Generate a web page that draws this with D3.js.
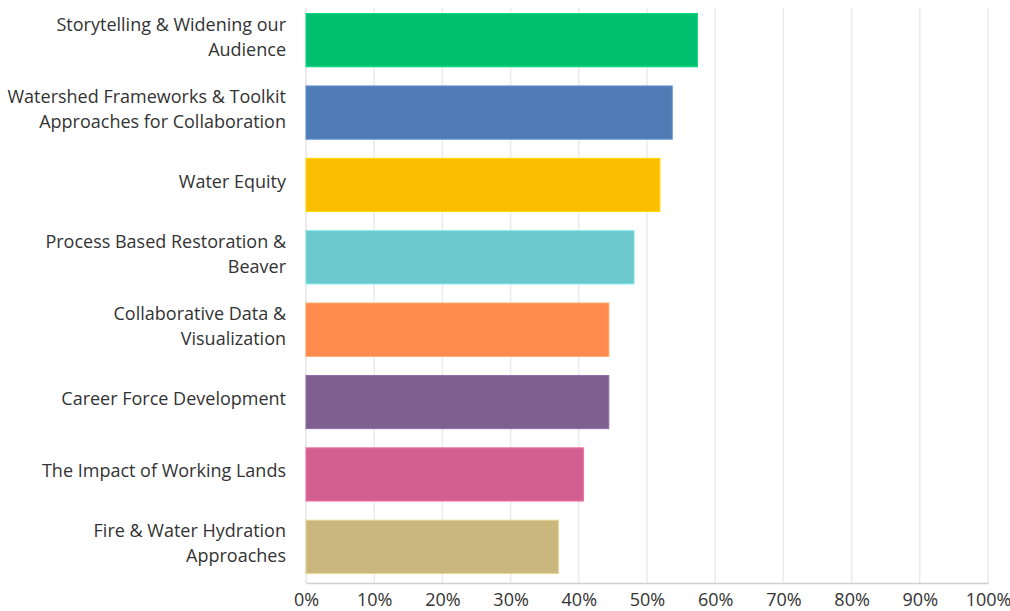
<!DOCTYPE html>
<html>
<head>
<meta charset="utf-8">
<script src="https://cdn.jsdelivr.net/npm/d3@7"></script>
<style>
  body { margin: 0; background: #fff; }
  text { font-family: "Open Sans", sans-serif; fill: #333; }
</style>
</head>
<body>
<svg width="1010" height="611"></svg>
<script>
var svg = d3.select("svg");

// topics, top to bottom
var topics = [
  ["Storytelling & Widening our", "Audience"],
  ["Watershed Frameworks & Toolkit", "Approaches for Collaboration"],
  ["Water Equity"],
  ["Process Based Restoration &", "Beaver"],
  ["Collaborative Data &", "Visualization"],
  ["Career Force Development"],
  ["The Impact of Working Lands"],
  ["Fire & Water Hydration", "Approaches"]
];
var shares = [57.4, 53.7, 51.9, 48.1, 44.4, 44.4, 40.7, 37.0];
var colors = ["#00bf6f", "#507cb6", "#f9be00", "#6bc8cd", "#ff8b4f", "#7f5f90", "#d25f90", "#c9b77d"];
var tickValues = [0, 10, 20, 30, 40, 50, 60, 70, 80, 90, 100];

var margin = {top: 4, right: 22, bottom: 28, left: 306};
var width = +svg.attr("width") - margin.left - margin.right;
var height = +svg.attr("height") - margin.top - margin.bottom;

var g = svg.append("g")
  .attr("transform", "translate(" + margin.left + "," + margin.top + ")");

var x = d3.scaleLinear().domain([0, 100]).range([0, width]);
var y = d3.scaleBand()
  .domain(d3.range(topics.length))
  .range([0, height])
  .paddingInner(0.265)
  .paddingOuter(0.1325);

// grid
g.selectAll(".grid")
  .data(tickValues.slice(1))
  .enter().append("line")
  .attr("x1", function(d) { return x(d); })
  .attr("x2", function(d) { return x(d); })
  .attr("y1", 4)
  .attr("y2", height)
  .style("stroke", "#ebebeb")
  .style("stroke-width", 1.5);

// left axis line
g.append("line")
  .attr("x1", 0).attr("x2", 0)
  .attr("y1", 4).attr("y2", height)
  .style("stroke", "#d9d9d9");

// bars
g.selectAll(".bar")
  .data(shares)
  .enter().append("rect")
  .attr("x", 0)
  .attr("y", function(d, i) { return y(i); })
  .attr("width", function(d) { return x(d); })
  .attr("height", y.bandwidth())
  .style("fill", function(d, i) { return colors[i]; })
  .style("stroke", function(d, i) { return d3.color(colors[i]).brighter(0.4); })
  .style("stroke-width", 1);

// bottom axis
var xAxis = g.append("g")
  .attr("transform", "translate(0," + height + ")")
  .call(d3.axisBottom(x).tickValues(tickValues).tickSize(0).tickPadding(10)
    .tickFormat(function(d) { return d + "%"; }));
xAxis.select(".domain").style("stroke", "#cfcfcf").style("stroke-width", 1.5);
xAxis.selectAll("text").style("font-size", "18px").style("fill", "#333")
  .attr("font-family", null);

// category labels
var lineH = 25;
var labels = g.selectAll(".label")
  .data(topics)
  .enter().append("text")
  .attr("text-anchor", "end")
  .attr("x", -20)
  .attr("y", function(d, i) { return y(i) + y.bandwidth() / 2; })
  .style("font-size", "18px");

labels.each(function(d) {
  var t = d3.select(this);
  var y0 = t.attr("y");
  d.forEach(function(line, j) {
    t.append("tspan")
      .attr("x", -20)
      .attr("y", y0)
      .attr("dy", ((j - (d.length - 1) / 2) * lineH + 3) + "px")
      .text(line);
  });
});
</script>
</body>
</html>
